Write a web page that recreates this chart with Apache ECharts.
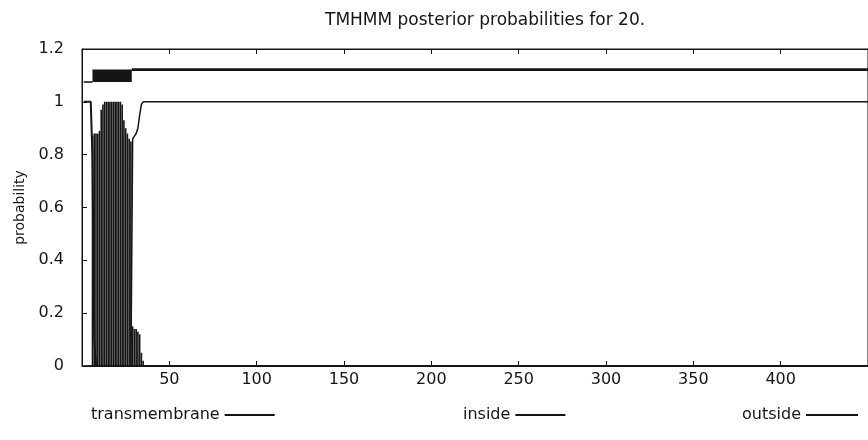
<!DOCTYPE html>
<html lang="en" style="height: 100%">
<head>
  <meta charset="utf-8">
</head>
<body style="height: 100%; margin: 0; background: #fff">
  <div id="container" style="width: 868px; height: 440px"></div>
  <script type="text/javascript" src="https://fastly.jsdelivr.net/npm/echarts@6/dist/echarts.min.js"></script>
  <script type="text/javascript">
    // sequence positions of the protein, 1..seqLength
    var seqLength = 450;

    // transmembrane posterior probability (drawn as impulses)
    var tmPos  = [6, 7, 8, 9, 10, 11, 12, 13, 14, 15, 16, 17, 18, 19, 20, 21, 22, 23, 24, 25, 26, 27, 28, 29, 30, 31, 32, 33, 34, 35];
    var tmProb = [0.87, 0.88, 0.88, 0.88, 0.89, 0.97, 0.99, 1.0, 1.0, 1.0, 1.0, 1.0, 1.0, 1.0, 1.0, 1.0, 1.0, 0.99, 0.93, 0.9, 0.88, 0.86, 0.85, 0.15, 0.14, 0.14, 0.13, 0.12, 0.05, 0.02];

    // inside / outside probability curves (line vertices)
    var insidePos   = [1, 5, 6, 7, 8, 450];
    var insideProb  = [1.0, 1.0, 0.79, 0.1, 0, 0];
    var outsidePos  = [1, 28, 29, 30, 31, 32, 33, 34, 35, 450];
    var outsideProb = [0, 0, 0.86, 0.87, 0.88, 0.9, 0.95, 0.99, 1.0, 1.0];

    // predicted topology shown above the curves: [type, start, end]
    var topology = [
      ['inside', 1, 6],
      ['TMhelix', 6, 28.5],
      ['outside', 28.5, 450]
    ];

    var ink = '#151515';
    var font = 'DejaVu Sans';

    var dom = document.getElementById('container');
    var myChart = echarts.init(dom, null, { renderer: 'canvas' });

    var tmData = tmPos.map(function (p, i) { return [p, tmProb[i]]; });
    var insideData = insidePos.map(function (p, i) { return [p, insideProb[i]]; });
    var outsideData = outsidePos.map(function (p, i) { return [p, outsideProb[i]]; });
    var topoData = topology.map(function (t) {
      return [t[1], t[2], ['inside', 'TMhelix', 'outside'].indexOf(t[0])];
    });

    // y ranges of the topology marks
    var topoBand = [[1.072, 1.078], [1.075, 1.122], [1.117, 1.127]];

    function renderTopo(params, api) {
      var band = topoBand[api.value(2)];
      var a = api.coord([api.value(0), band[1]]);
      var b = api.coord([api.value(1), band[0]]);
      return {
        type: 'rect',
        shape: { x: a[0], y: a[1], width: b[0] - a[0], height: b[1] - a[1] },
        style: { fill: ink }
      };
    }

    var option = {
      animation: false,
      backgroundColor: '#fff',
      title: {
        text: 'TMHMM posterior probabilities for 20.',
        left: 320,
        top: 7,
        textStyle: { fontFamily: font, fontSize: 17, fontWeight: 'normal', color: ink }
      },
      legend: [
        {
          data: ['transmembrane'], left: 86, top: 402, align: 'right', icon: 'rect',
          itemWidth: 50, itemHeight: 2,
          textStyle: { fontFamily: font, fontSize: 16, color: ink }
        },
        {
          data: ['inside'], left: 458, top: 402, align: 'right', icon: 'rect',
          itemWidth: 50, itemHeight: 2,
          textStyle: { fontFamily: font, fontSize: 16, color: ink }
        },
        {
          data: ['outside'], left: 737, top: 402, align: 'right', icon: 'rect',
          itemWidth: 52, itemHeight: 2,
          textStyle: { fontFamily: font, fontSize: 16, color: ink }
        }
      ],
      grid: {
        left: 82, top: 49, bottom: 74, right: -29,
        show: true, borderColor: ink, borderWidth: 1
      },
      xAxis: [
        {
          type: 'value', min: 0, max: seqLength, interval: 50, position: 'bottom',
          axisLine: { onZero: false, lineStyle: { color: ink, width: 1 } },
          axisTick: { inside: true, length: 5, lineStyle: { color: ink } },
          axisLabel: { showMinLabel: false, showMaxLabel: false, fontFamily: font, fontSize: 16, color: ink, margin: 6 },
          splitLine: { show: false }
        },
        {
          type: 'value', min: 0, max: seqLength, interval: 50, position: 'top',
          axisLine: { onZero: false, lineStyle: { color: ink, width: 1 } },
          axisTick: { inside: true, length: 5, lineStyle: { color: ink } },
          axisLabel: { show: false },
          splitLine: { show: false }
        }
      ],
      yAxis: {
        type: 'value', min: 0, max: 1.2, interval: 0.2,
        name: 'probability', nameLocation: 'middle', nameGap: 54,
        nameTextStyle: { fontFamily: font, fontSize: 14, color: ink },
        axisLine: { show: true, lineStyle: { color: ink, width: 1 } },
        axisTick: { inside: true, length: 5, lineStyle: { color: ink } },
        axisLabel: { fontFamily: font, fontSize: 16, color: ink, margin: 18 },
        splitLine: { show: false }
      },
      series: [
        {
          name: 'transmembrane', type: 'bar', data: tmData, barWidth: 1.6,
          itemStyle: { color: ink }
        },
        {
          name: 'inside', type: 'line', data: insideData, symbol: 'none',
          lineStyle: { color: ink, width: 2 }, itemStyle: { color: ink }
        },
        {
          name: 'outside', type: 'line', data: outsideData, symbol: 'none',
          lineStyle: { color: ink, width: 1.5 }, itemStyle: { color: ink }
        },
        {
          name: 'topology', type: 'custom', data: topoData, renderItem: renderTopo,
          encode: { x: [0, 1] }
        }
      ]
    };

    myChart.setOption(option);
    window.addEventListener('resize', myChart.resize);
  </script>
</body>
</html>
